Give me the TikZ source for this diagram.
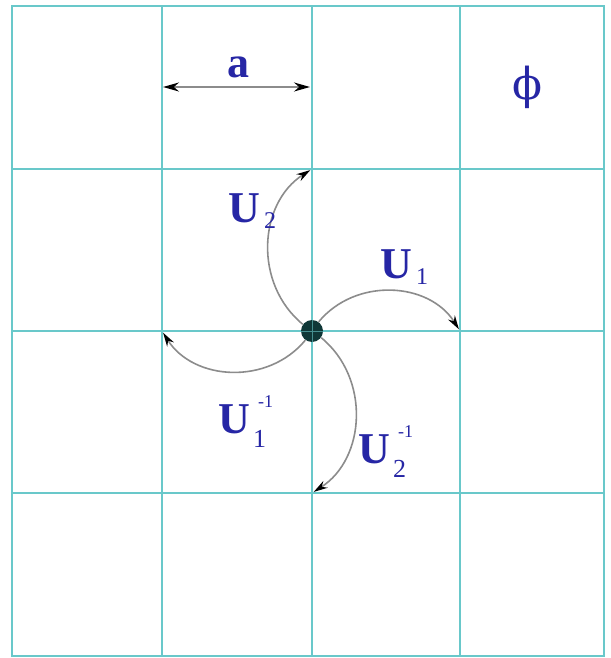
\documentclass[tikz,border=0pt]{standalone}
\usepackage{fontspec}
\setmainfont{Liberation Serif}
\newfontfamily\dvs{DejaVu Serif}
\usetikzlibrary{arrows.meta}
\definecolor{gridc}{RGB}{105,200,202}
\definecolor{lblc}{RGB}{38,38,165}
\definecolor{arrc}{RGB}{140,140,140}
\definecolor{dotc}{RGB}{15,55,55}
\newcommand{\Ulab}[1]{U\kern2pt\raisebox{-3pt}{\mdseries\fontsize{12}{12}\selectfont #1}}
\newcommand{\Uinv}[1]{U\kern1.5pt\rlap{\kern2.5pt\raisebox{13pt}{\mdseries\fontsize{9}{9}\selectfont -1}}\raisebox{-7pt}{\mdseries\fontsize{13}{13}\selectfont #1}}
\begin{document}
\begin{tikzpicture}[x=0.5pt,y=-0.5pt,
  gridline/.style={draw=gridc,line width=1.45pt},
  move/.style={draw=arrc,line width=0.8pt,-{Stealth[length=7pt,width=4pt,color=black]},shorten >=1pt,bend left=54,looseness=1.05},
  lbl/.style={text=lblc,font=\bfseries\fontsize{22}{22}\selectfont,inner sep=0pt,anchor=base west}]
\useasboundingbox (0,0) rectangle (610,658);
\fill[white] (0,0) rectangle (610,658);
% grid
\draw[gridline] (12,6) rectangle (604,656);
\foreach \x in {162,312,460} \draw[gridline] (\x,6) -- (\x,656);
\foreach \y in {169,331,493} \draw[gridline] (12,\y) -- (604,\y);
% central site
\node[circle,fill=dotc,minimum size=11pt,inner sep=0pt] (c) at (312,331) {};
\draw[gridc,line width=0.5pt,opacity=0.6] (c.north) -- (c.south) (c.west) -- (c.east);
% neighbours
\coordinate (r) at (460,331);
\coordinate (u) at (312,169);
\coordinate (l) at (162,331);
\coordinate (d) at (312,493);
\draw[move] (c) to (r);
\draw[move] (c) to (u);
\draw[move] (c) to (l);
\draw[move] (c) to (d);
% lattice spacing
\coordinate (a1) at (163,87);
\coordinate (a2) at (310,87);
\draw[draw=arrc,line width=0.9pt,{Stealth[length=8pt,width=4.5pt,color=black]}-{Stealth[length=8pt,width=4.5pt,color=black]}] (a1) -- (a2);
% labels
\node[lbl] (la) at (227,78) {a};
\node[text=lblc,inner sep=0pt,font=\dvs\fontsize{22}{22}\selectfont] (phi) at (527,87) {ϕ};
\node[lbl] (l1) at (380,278) {\Ulab{1}};
\node[lbl] (l2) at (228,222) {\Ulab{2}};
\node[lbl] (l3) at (218,433) {\Uinv{1}};
\node[lbl] (l4) at (358,463) {\Uinv{2}};
\end{tikzpicture}
\end{document}
